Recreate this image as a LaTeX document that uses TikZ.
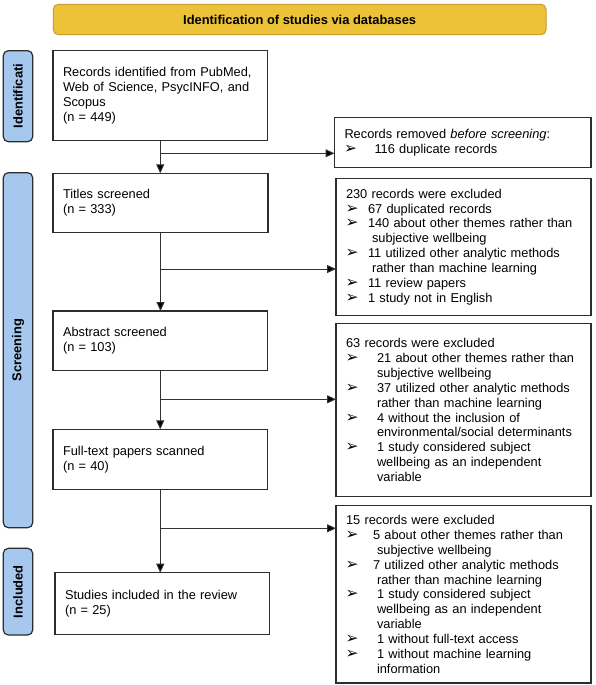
\documentclass[tikz,border=0pt]{standalone}
\usepackage{fontspec}
\setmainfont{Liberation Sans}
\newfontfamily\dvs{DejaVu Sans}
\usetikzlibrary{arrows.meta}
\definecolor{gold}{RGB}{236,194,56}
\definecolor{goldline}{RGB}{200,158,45}
\definecolor{lblue}{RGB}{166,200,238}
\definecolor{boxline}{RGB}{45,45,45}
\definecolor{conn}{RGB}{50,50,50}
\newcommand\bul{{\dvs\fontsize{15.5}{14}\selectfont ➢}}
\newcommand\bitem[2]{\makebox[#1pt][l]{\hspace*{-0.5pt}\bul}#2}
\newcommand\cont[2]{\hspace*{#1pt}#2}
\begin{document}
\begin{tikzpicture}[x=1pt,y=-1pt,
  txt/.style={font=\fontsize{12.8}{14.9}\selectfont},
  flowbox/.style={draw=boxline, line width=1.2pt, fill=white, rectangle,
    inner xsep=10pt, inner ysep=0pt, outer sep=0pt, align=left, anchor=north west, txt},
  sidelabel/.style={draw=boxline, line width=1.2pt, fill=lblue, rounded corners=5pt,
    rotate=90, inner sep=0pt, outer sep=0pt, font=\fontsize{12.9}{14}\selectfont\bfseries},
  banner/.style={draw=goldline, line width=1pt, fill=gold, rounded corners=5pt,
    inner sep=0pt, font=\fontsize{12.9}{14}\selectfont\bfseries},
  conn/.style={draw=conn, line width=1pt},
  arr/.style={conn, -{Triangle[length=9pt,width=8pt,fill=black]}}
]
\fill[white] (0,0) rectangle (595,685);
\useasboundingbox (0,0) rectangle (595,685);

% banner
\node[banner, minimum width=492.7pt, minimum height=30.4pt] (ban) at (299.65,19.5)
  {Identification of studies via databases};

% side labels
\node[sidelabel, minimum width=91pt, minimum height=29.4pt] (lid) at (18,96.2) {Identificati};
\node[sidelabel, minimum width=355pt, minimum height=29.4pt] (lscr) at (18,350.2) {Screening};
\node[sidelabel, minimum width=86.7pt, minimum height=29.4pt] (linc) at (18,591.65) {Included};

% left column
\node[flowbox, minimum width=214.5pt, minimum height=89.8pt, text width=194.5pt] (rec) at (53,50.7)
  {Records identified from PubMed,\\ Web of Science, PsycINFO, and\\ Scopus\\ (n = 449)};
\node[flowbox, minimum width=215pt, minimum height=59.4pt, text width=195pt] (tit) at (53,173.3)
  {Titles screened\\ (n = 333)};
\node[flowbox, minimum width=214.5pt, minimum height=59.7pt, text width=194.5pt] (abs) at (53,311)
  {Abstract screened\\ (n = 103)};
\node[flowbox, minimum width=214.5pt, minimum height=60pt, text width=194.5pt] (full) at (53,429.3)
  {Full-text papers scanned\\ (n = 40)};
\node[flowbox, minimum width=214.3pt, minimum height=61.6pt, text width=194.3pt] (inc) at (55,572.7)
  {Studies included in the review\\ (n = 25)};

% right column
\node[flowbox, minimum width=256.5pt, minimum height=49.8pt, text width=236.5pt] (rem) at (334.5,117.5)
  {Records removed \textit{before screening}:\\ \bitem{30}{116 duplicate records}};
\node[flowbox, minimum width=255pt, minimum height=137.4pt, text width=235pt] (ex1) at (336,178.3)
  {230 records were excluded\\
   \bitem{22}{67 duplicated records}\\
   \bitem{22}{140 about other themes rather than}\\
   \cont{26}{subjective wellbeing}\\
   \bitem{22}{11 utilized other analytic methods}\\
   \cont{26}{rather than machine learning}\\
   \bitem{22}{11 review papers}\\
   \bitem{22}{1 study not in English}};
\node[flowbox, minimum width=255pt, minimum height=173.4pt, text width=235pt] (ex2) at (336,323.3)
  {63 records were excluded\\
   \bitem{31}{21 about other themes rather than}\\
   \cont{31}{subjective wellbeing}\\
   \bitem{31}{37 utilized other analytic methods}\\
   \cont{31}{rather than machine learning}\\
   \bitem{31}{4 without the inclusion of}\\
   \cont{31}{environmental/social determinants}\\
   \bitem{31}{1 study considered subject}\\
   \cont{31}{wellbeing as an independent}\\
   \cont{31}{variable}};
\node[flowbox, minimum width=255pt, minimum height=177.3pt, text width=235pt] (ex3) at (336,505.7)
  {15 records were excluded\\
   \bitem{27}{5 about other themes rather than}\\
   \cont{31}{subjective wellbeing}\\
   \bitem{27}{7 utilized other analytic methods}\\
   \cont{31}{rather than machine learning}\\
   \bitem{31}{1 study considered subject}\\
   \cont{31}{wellbeing as an independent}\\
   \cont{31}{variable}\\
   \bitem{31}{1 without full-text access}\\
   \bitem{31}{1 without machine learning}\\
   \cont{31}{information}};

% connectors
\coordinate (b1) at (160,153.3);
\coordinate (b2) at (160,269);
\coordinate (b3) at (160,399.3);
\coordinate (b4) at (160,528.3);
\draw[arr] (rec.south) -- (rec.south |- tit.north);
\draw[arr] (b1) -- (b1 -| rem.west);
\draw[arr] (tit.south) -- (tit.south |- abs.north);
\draw[arr] (b2) -- (b2 -| ex1.west);
\draw[arr] (abs.south) -- (abs.south |- full.north);
\draw[arr] (b3) -- (b3 -| ex2.west);
\draw[arr] (full.south) -- (full.south |- inc.north);
\draw[arr] (b4) -- (b4 -| ex3.west);
\end{tikzpicture}
\end{document}
